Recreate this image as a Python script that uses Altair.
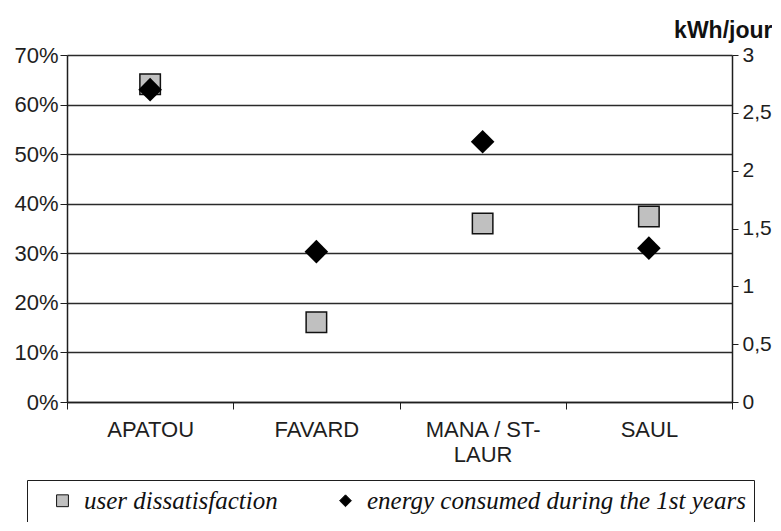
import altair as alt
import pandas as pd

sites = ["APATOU", "FAVARD", "MANA / ST-LAUR", "SAUL"]
dissatisfaction = [0.641, 0.161, 0.360, 0.374]
energy = [2.70, 1.30, 2.25, 1.33]
series_names = ["user dissatisfaction", "energy consumed during the 1st years"]
pct_ticks = [0, 0.1, 0.2, 0.3, 0.4, 0.5, 0.6, 0.7]
kwh_ticks = [0, 0.5, 1, 1.5, 2, 2.5, 3]

rows = []
for s, v in zip(sites, dissatisfaction):
    rows.append({"site": s, "value": v, "series": series_names[0]})
for s, v in zip(sites, energy):
    rows.append({"site": s, "value": v, "series": series_names[1]})
df = pd.DataFrame(rows)

SANS = "Liberation Sans"
SERIF = "Liberation Serif"
INK = "#1e1e1e"

x_enc = alt.X(
    "site:N",
    sort=sites,
    scale=alt.Scale(type="band", paddingInner=0, paddingOuter=0),
    axis=alt.Axis(
        title=None,
        labelAngle=0,
        tickBand="extent",
        tickSize=7,
        tickColor=INK,
        domainColor=INK,
        domainWidth=1.5,
        labelFont=SANS,
        labelFontSize=22,
        labelColor=INK,
        labelPadding=10,
        labelLineHeight=25,
        labelExpr="datum.value == 'MANA / ST-LAUR' ? ['MANA / ST-', 'LAUR'] : datum.value",
    ),
)

color_enc = alt.Color(
    "series:N",
    scale=alt.Scale(domain=series_names, range=["#c0c0c0", "#000000"]),
    legend=alt.Legend(
        title=None,
        orient="none",
        legendX=-40,
        legendY=425,
        direction="horizontal",
        columns=2,
        strokeColor=INK,
        fillColor="white",
        padding=8,
        symbolOffset=15,
        columnPadding=40,
        labelFont=SERIF,
        labelFontStyle="italic",
        labelFontSize=25,
        labelColor="#111",
        labelLimit=500,
        labelOffset=9,
        symbolSize=140,
        symbolStrokeColor="#111",
        symbolStrokeWidth=1,
    ),
)
shape_enc = alt.Shape(
    "series:N",
    scale=alt.Scale(domain=series_names, range=["square", "diamond"]),
    legend=None,
)

base = alt.Chart(df)

squares = base.transform_filter(
    alt.datum.series == series_names[0]
).mark_point(filled=True, size=420, stroke="#111", strokeWidth=1.5, opacity=1).encode(
    x=x_enc,
    y=alt.Y(
        "value:Q",
        scale=alt.Scale(domain=[0, 0.7], nice=False),
        axis=alt.Axis(
            title=None,
            values=pct_ticks,
            format=".0%",
            grid=True,
            gridColor="#2a2a2a",
            gridWidth=1.5,
            tickSize=7,
            tickColor=INK,
            domainColor=INK,
            domainWidth=1.5,
            labelFont=SANS,
            labelFontSize=22,
            labelColor=INK,
            labelPadding=2,
        ),
    ),
    color=color_enc,
    shape=shape_enc,
)

diamonds = base.transform_filter(
    alt.datum.series == series_names[1]
).mark_point(filled=True, size=560, opacity=1).encode(
    x=x_enc,
    y=alt.Y(
        "value:Q",
        scale=alt.Scale(domain=[0, 3], nice=False),
        axis=alt.Axis(
            orient="right",
            title="kWh/jour",
            titleAngle=0,
            titleAlign="right",
            titleBaseline="alphabetic",
            titleX=40,
            titleY=-18,
            titleFont=SANS,
            titleFontSize=23,
            titleFontWeight="bold",
            titleColor="#111",
            values=kwh_ticks,
            grid=False,
            tickSize=6,
            tickColor=INK,
            domainColor=INK,
            domainWidth=1.5,
            labelFont=SANS,
            labelFontSize=21,
            labelColor=INK,
            labelPadding=4,
            labelExpr="replace(format(datum.value, '~g'), '.', ',')",
        ),
    ),
    color=color_enc,
    shape=shape_enc,
)

chart = alt.layer(squares, diamonds).resolve_scale(y="independent").properties(
    width=665,
    height=347,
    autosize=alt.AutoSizeParams(type="none"),
    padding={"left": 59, "top": 47, "right": 40, "bottom": 120},
    background="white",
).configure_view(stroke=None)

chart.save("out.html", embed_options={"renderer": "svg", "actions": False})
